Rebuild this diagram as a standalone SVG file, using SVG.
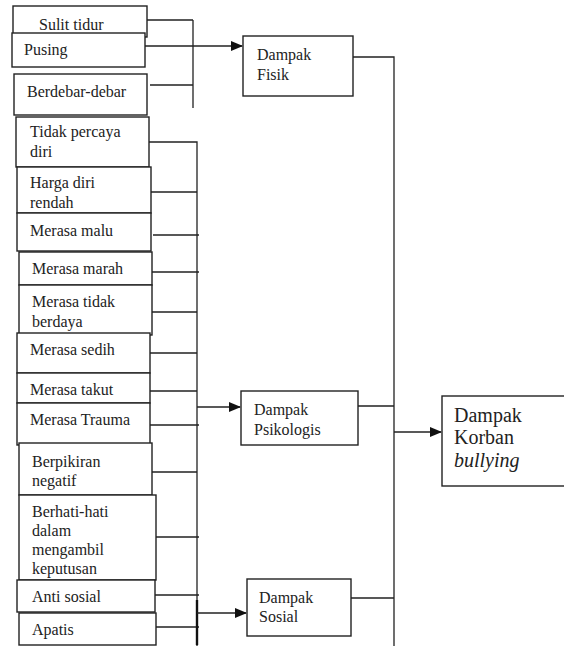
<svg xmlns="http://www.w3.org/2000/svg" width="564" height="646" viewBox="0 0 564 646">
<defs>
<style>
.b{fill:#fff;stroke:#222;stroke-width:1.4}
.t{font-family:"Liberation Serif","Times New Roman",serif;font-size:16px;fill:#222}
.k{font-family:"Liberation Serif","Times New Roman",serif;font-size:20px;fill:#222}
.c{fill:none;stroke:#222;stroke-width:1.3}
</style>
<marker id="ah" markerWidth="12" markerHeight="10" refX="11" refY="5" orient="auto" markerUnits="userSpaceOnUse">
<path d="M0,0 L12,5 L0,10 Z" fill="#111"/>
</marker>
</defs>
<rect width="564" height="646" fill="#fff"/>
<g id="connectors">
<path class="c" d="M147,20 H193 M145,46 H193 M150,85 H193 M193,20 V108"/>
<path class="c" d="M193,46 H242" marker-end="url(#ah)"/>
<path class="c" d="M149,142 H197 V646"/>
<path class="c" d="M151,192 H197 M153,235 H199 M152,272 H199 M152,312 H197 M150,353 H197 M150,391 H197 M150,425 H199 M152,472 H197 M156,537 H199 M155,595 H199 M156,627 H199"/>
<path class="c" d="M197,407 H240" marker-end="url(#ah)"/>
<path d="M197,600 V645" stroke="#111" stroke-width="2.4"/>
<path class="c" d="M197,613 H246" marker-end="url(#ah)"/>
<path class="c" d="M353,57 H394 V646 M358,406 H394 M351,598 H394"/>
<path class="c" d="M394,432 H441" marker-end="url(#ah)"/>
</g>
<g id="n-sulit"><rect class="b" x="13" y="6" width="134" height="31"/><text class="t" x="39" y="30">Sulit tidur</text></g>
<g id="n-pusing"><rect class="b" x="12" y="33" width="133" height="34"/><text class="t" x="24" y="55">Pusing</text></g>
<g id="n-berdebar"><rect class="b" x="14" y="74" width="133" height="41"/><text class="t" x="27" y="97">Berdebar-debar</text></g>
<g id="n-tidakpercaya"><rect class="b" x="16" y="117" width="133" height="50"/><text class="t" x="30" y="137">Tidak percaya</text><text class="t" x="30" y="157">diri</text></g>
<g id="n-harga"><rect class="b" x="17" y="167" width="134" height="46"/><text class="t" x="30" y="188">Harga diri</text><text class="t" x="30" y="208">rendah</text></g>
<g id="n-malu"><rect class="b" x="17" y="213" width="134" height="38"/><text class="t" x="30" y="236">Merasa malu</text></g>
<g id="n-marah"><rect class="b" x="19" y="252" width="133" height="33"/><text class="t" x="32" y="274">Merasa marah</text></g>
<g id="n-tidakberdaya"><rect class="b" x="19" y="285" width="133" height="50"/><text class="t" x="32" y="307">Merasa tidak</text><text class="t" x="32" y="327">berdaya</text></g>
<g id="n-sedih"><rect class="b" x="17" y="333" width="133" height="40"/><text class="t" x="30" y="355">Merasa sedih</text></g>
<g id="n-takut"><rect class="b" x="17" y="373" width="133" height="30"/><text class="t" x="30" y="395">Merasa takut</text></g>
<g id="n-trauma"><rect class="b" x="17" y="403" width="133" height="42"/><text class="t" x="30" y="425">Merasa Trauma</text></g>
<g id="n-negatif"><rect class="b" x="19" y="443" width="133" height="52"/><text class="t" x="32" y="467">Berpikiran</text><text class="t" x="32" y="486">negatif</text></g>
<g id="n-berhati"><rect class="b" x="19" y="495" width="137" height="85"/><text class="t" x="32" y="517">Berhati-hati</text><text class="t" x="32" y="536">dalam</text><text class="t" x="32" y="555">mengambil</text><text class="t" x="32" y="574">keputusan</text></g>
<g id="n-antisosial"><rect class="b" x="17" y="580" width="138" height="32"/><text class="t" x="32" y="602">Anti sosial</text></g>
<g id="n-apatis"><rect class="b" x="19" y="613" width="137" height="32"/><text class="t" x="32" y="635">Apatis</text></g>
<g id="n-fisik"><rect class="b" x="243" y="36" width="110" height="60"/><text class="t" x="257" y="60">Dampak</text><text class="t" x="257" y="80">Fisik</text></g>
<g id="n-psikologis"><rect class="b" x="241" y="391" width="117" height="54"/><text class="t" x="254" y="415">Dampak</text><text class="t" x="254" y="435">Psikologis</text></g>
<g id="n-sosial"><rect class="b" x="247" y="579" width="104" height="57"/><text class="t" x="259" y="603">Dampak</text><text class="t" x="259" y="622">Sosial</text></g>
<g id="n-korban"><rect class="b" x="442" y="396" width="125" height="90"/><text class="k" x="454" y="422">Dampak</text><text class="k" x="454" y="444">Korban</text><text class="k" x="454" y="467" font-style="italic">bullying</text></g>
</svg>
